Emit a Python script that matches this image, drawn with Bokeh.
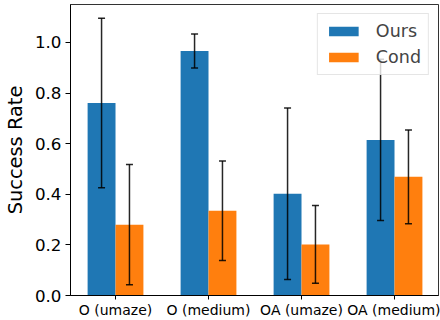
import numpy as np
from bokeh.plotting import figure
from bokeh.models import ColumnDataSource, Range1d, FixedTicker, Whisker, TeeHead
from bokeh.transform import dodge
from bokeh.embed import file_html
from bokeh.resources import INLINE

categories = ["O (umaze)", "O (medium)", "OA (umaze)", "OA (medium)"]
ours_mean = [0.761, 0.966, 0.402, 0.615]
ours_std = [0.335, 0.067, 0.339, 0.319]
cond_mean = [0.280, 0.335, 0.202, 0.469]
cond_std = [0.238, 0.197, 0.154, 0.185]
series_names = ["Ours", "Cond"]
colors = ["#1f77b4", "#ff7f0e"]

xs = np.arange(len(categories))
om, osd = np.array(ours_mean), np.array(ours_std)
cm, csd = np.array(cond_mean), np.array(cond_std)
src = ColumnDataSource(dict(
    x=xs, ours=om, ours_up=om + osd, ours_lo=om - osd,
    cond=cm, cond_up=cm + csd, cond_lo=cm - csd,
))

p = figure(width=440, height=320, output_backend="svg", toolbar_location=None,
           x_range=Range1d(-0.484, 3.473), y_range=Range1d(0, 1.15),
           min_border_left=69, min_border_right=2, min_border_top=4, min_border_bottom=23)

w = 0.3
p.vbar(x=dodge("x", -w / 2, range=p.x_range), top="ours", width=w, source=src,
       fill_color=colors[0], line_color=None, legend_label=series_names[0])
p.vbar(x=dodge("x", w / 2, range=p.x_range), top="cond", width=w, source=src,
       fill_color=colors[1], line_color=None, legend_label=series_names[1])

for off, up, lo in [(-w / 2, "ours_up", "ours_lo"), (w / 2, "cond_up", "cond_lo")]:
    wh = Whisker(base=dodge("x", off, range=p.x_range), upper=up, lower=lo, source=src,
                 level="glyph",
                 line_color="black", line_width=1.5, line_alpha=0.85,
                 upper_head=TeeHead(size=7, line_color="black", line_width=1.5, line_alpha=0.85),
                 lower_head=TeeHead(size=7, line_color="black", line_width=1.5, line_alpha=0.85))
    p.add_layout(wh)

p.xgrid.visible = False
p.ygrid.visible = False
p.outline_line_color = "black"
p.outline_line_width = 1
p.outline_line_alpha = 0.8

p.xaxis.ticker = FixedTicker(ticks=list(xs))
p.xaxis.major_label_overrides = {int(i): c for i, c in zip(xs, categories)}
p.yaxis.ticker = FixedTicker(ticks=[0.0, 0.2, 0.4, 0.6, 0.8, 1.0])
p.yaxis.major_label_overrides = {0.0: "0.0", 0.2: "0.2", 0.4: "0.4", 0.6: "0.6", 0.8: "0.8", 1.0: "1.0"}
for ax in (p.xaxis[0], p.yaxis[0]):
    ax.minor_tick_line_color = None
    ax.major_tick_in = 0
    ax.major_tick_out = 5
    ax.axis_line_color = "black"
    ax.major_tick_line_color = "black"
    ax.major_label_text_font = "DejaVu Sans"
    ax.major_label_text_color = "black"
p.xaxis.major_tick_out = 4
p.xaxis.major_label_text_font_size = "14px"
p.xaxis.major_label_standoff = 2
p.yaxis.major_label_text_font_size = "16.7px"
p.yaxis.major_label_standoff = 4
p.yaxis.axis_label = "Success Rate"
p.yaxis.axis_label_text_font = "DejaVu Sans"
p.yaxis.axis_label_text_font_size = "19.4px"
p.yaxis.axis_label_text_font_style = "normal"
p.yaxis.axis_label_text_color = "black"
p.yaxis.axis_label_standoff = 5

lg = p.legend[0]
lg.location = "top_right"
lg.margin = 9
lg.padding = 7
lg.spacing = 6
lg.glyph_width = 37
lg.glyph_height = 12
lg.label_height = 20
lg.label_standoff = 14
lg.label_text_font = "DejaVu Sans"
lg.label_text_font_size = "17.5px"
lg.border_line_color = "#cccccc"
lg.background_fill_alpha = 0.8

open("out.html", "w").write(file_html(p, INLINE))
